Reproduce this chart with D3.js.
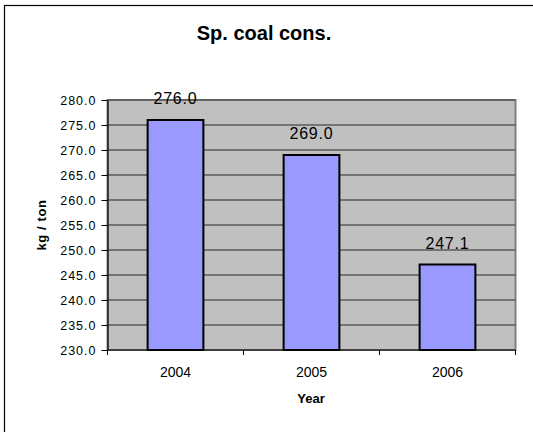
<!DOCTYPE html>
<html>
<head>
<meta charset="utf-8">
<script src="https://d3js.org/d3.v7.min.js"></script>
<style>
  body { margin: 0; background: #fff; }
  text { font-family: Arial, "Liberation Sans", sans-serif; }
</style>
</head>
<body>
<svg id="chart" width="533" height="432"></svg>
<script>
// data
var years = ["2004", "2005", "2006"];
var coalCons = [276.0, 269.0, 247.1];
var yTicks = [230, 235, 240, 245, 250, 255, 260, 265, 270, 275, 280];

var svg = d3.select("#chart");

var plot = {left: 107.5, right: 515.5, top: 100, bottom: 350};

var x = d3.scaleBand()
    .domain(years)
    .range([plot.left, plot.right])
    .paddingInner(0.59)
    .paddingOuter(0.295);

var y = d3.scaleLinear()
    .domain([230, 280])
    .range([plot.bottom, plot.top]);

// outer chart frame (right/bottom edges fall outside the picture)
svg.append("rect")
    .attr("x", 4.5).attr("y", 5.5)
    .attr("width", 560).attr("height", 460)
    .attr("fill", "#fff")
    .attr("stroke", "#000")
    .attr("stroke-width", 1.2);

// title
svg.append("text")
    .attr("x", 264).attr("y", 40)
    .attr("text-anchor", "middle")
    .style("font-size", "20px")
    .style("font-weight", "bold")
    .text("Sp. coal cons.");

// plot area
svg.append("rect")
    .attr("x", plot.left).attr("y", plot.top)
    .attr("width", plot.right - plot.left)
    .attr("height", plot.bottom - plot.top)
    .attr("fill", "#c0c0c0")
    .attr("stroke", "#808080")
    .attr("stroke-width", 2);

// gridlines
svg.append("g")
    .selectAll("line")
    .data(yTicks.slice(1))
    .enter()
    .append("line")
    .attr("x1", plot.left).attr("x2", plot.right)
    .attr("y1", function (d) {return y(d);})
    .attr("y2", function (d) {return y(d);})
    .attr("stroke", "#5a5a5a")
    .attr("stroke-width", 1.4);

// bars
svg.append("g")
    .selectAll("rect")
    .data(coalCons)
    .enter()
    .append("rect")
    .attr("x", function (d, i) {return x(years[i]);})
    .attr("y", function (d) {return y(d);})
    .attr("width", x.bandwidth())
    .attr("height", function (d) {return y(230) - y(d);})
    .attr("fill", "#9999ff")
    .attr("stroke", "#000")
    .attr("stroke-width", 2);

// value labels
svg.append("g")
    .selectAll("text")
    .data(coalCons)
    .enter()
    .append("text")
    .attr("x", function (d, i) {return x(years[i]) + x.bandwidth() / 2;})
    .attr("y", function (d) {return y(d) - 16;})
    .attr("text-anchor", "middle")
    .style("font-size", "16px")
    .style("letter-spacing", "0.8px")
    .text(function (d) {return d.toFixed(1);});

// y axis
var yAxis = svg.append("g")
    .attr("transform", "translate(" + plot.left + ",0)")
    .call(d3.axisLeft(y)
        .tickValues(yTicks)
        .tickFormat(d3.format(".1f"))
        .tickSize(6)
        .tickPadding(5)
        .tickSizeOuter(0));
yAxis.select(".domain").attr("stroke", "#000").attr("stroke-width", 1.2);
yAxis.selectAll(".tick line").attr("stroke", "#000");
yAxis.selectAll(".tick text")
    .attr("fill", "#000")
    .style("font-size", "12.5px")
    .style("letter-spacing", "1px")
    .style("font-family", "Arial, 'Liberation Sans', sans-serif");

// x axis: ticks sit on the category boundaries
var xAxis = svg.append("g")
    .attr("transform", "translate(0," + plot.bottom + ")");
xAxis.append("line")
    .attr("x1", plot.left).attr("x2", plot.right)
    .attr("stroke", "#000").attr("stroke-width", 1.2);
xAxis.selectAll(".xtick")
    .data(years.concat(["end"]))
    .enter()
    .append("line")
    .attr("class", "xtick")
    .attr("x1", function (d, i) {return plot.left + i * x.step();})
    .attr("x2", function (d, i) {return plot.left + i * x.step();})
    .attr("y1", 0).attr("y2", 5)
    .attr("stroke", "#000");
xAxis.selectAll(".xlabel")
    .data(years)
    .enter()
    .append("text")
    .attr("class", "xlabel")
    .attr("x", function (d) {return x(d) + x.bandwidth() / 2;})
    .attr("y", 26.5)
    .attr("text-anchor", "middle")
    .style("font-size", "14px")
    .text(function (d) {return d;});

// axis titles
svg.append("text")
    .attr("x", (plot.left + plot.right) / 2 - 0.5)
    .attr("y", 402.5)
    .attr("text-anchor", "middle")
    .style("font-size", "13px")
    .style("font-weight", "bold")
    .text("Year");

svg.append("text")
    .attr("transform", "translate(46," + ((plot.top + plot.bottom) / 2) + ") rotate(-90)")
    .attr("text-anchor", "middle")
    .style("font-size", "13px")
    .style("font-weight", "bold")
    .style("letter-spacing", "0.6px")
    .text("kg / ton");
</script>
</body>
</html>
